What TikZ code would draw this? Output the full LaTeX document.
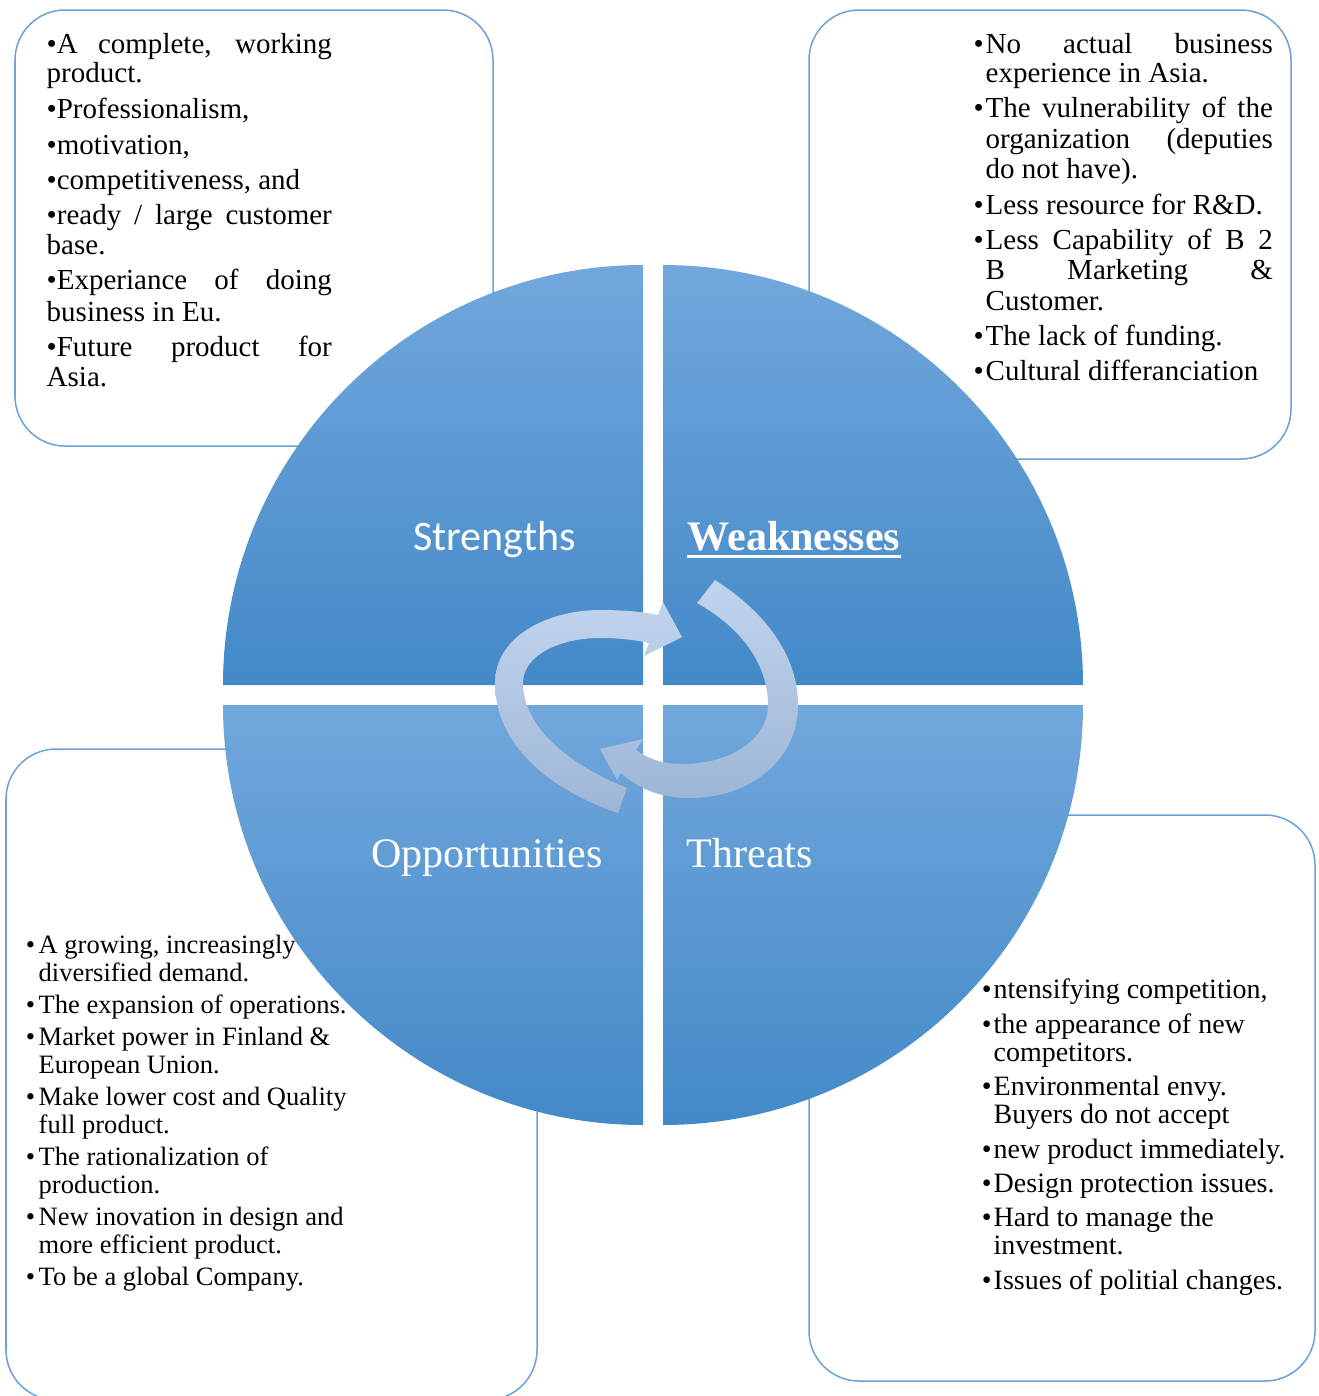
\documentclass[tikz,border=0pt]{standalone}
\usepackage{fontspec}
\setmainfont{Liberation Serif}
\newfontfamily\labelsans{Carlito}

\definecolor{quadtop}{RGB}{113,167,220}
\definecolor{quadbot}{RGB}{67,137,200}
\definecolor{boxline}{RGB}{108,160,218}
\definecolor{arrtop}{RGB}{193,212,237}
\definecolor{arrbot}{RGB}{158,182,214}

% hanging bullet placed left of the text start
\newcommand\hb[1]{\llap{•\hspace{#1}}}

\begin{document}
\begin{tikzpicture}[x=0.01cm,y=-0.01cm,
  infobox/.style={draw=boxline,line width=0.015cm,fill=white,rounded corners=0.5cm},
  quad/.style={top color=quadtop,bottom color=quadbot,draw=none},
  cyclearrow/.style={top color=arrtop,bottom color=arrbot,draw=none},
  bigserif/.style={anchor=base,inner sep=0,text=white,font=\fontsize{0.42cm}{0.5cm}\selectfont},
  tlline/.style={anchor=base west,inner sep=0,font=\fontsize{0.29cm}{0.3cm}\selectfont},
  trline/.style={anchor=base west,inner sep=0,font=\fontsize{0.29cm}{0.3cm}\selectfont},
  blline/.style={anchor=base west,inner sep=0,font=\fontsize{0.265cm}{0.28cm}\selectfont},
  brline/.style={anchor=base west,inner sep=0,font=\fontsize{0.28cm}{0.29cm}\selectfont}]
\useasboundingbox (0,0) rectangle (1319,1396);
\clip (0,0) rectangle (1319,1396);

% text panels behind the circle
\draw[infobox] (15,10) rectangle (493,446);
\draw[infobox] (809,10) rectangle (1291,459);
\draw[infobox] (6,749) rectangle (537,1400);
\draw[infobox] (809,815) rectangle (1315,1381);

% four quarter discs
\shade[quad] (643,685) -- (223,685) arc[start angle=180,end angle=270,radius=420] -- cycle;
\shade[quad] (663,685) -- (663,265) arc[start angle=270,end angle=360,radius=420] -- cycle;
\shade[quad] (643,705) -- (223,705) arc[start angle=180,end angle=90,radius=420] -- cycle;
\shade[quad] (663,705) -- (1083,705) arc[start angle=0,end angle=90,radius=420] -- cycle;

% circular arrows in the middle
\shade[cyclearrow] (618,813) .. controls (550,790) and (495,745) .. (495,683)
  .. controls (495,635) and (550,610) .. (600,610)
  .. controls (625,610) and (645,612) .. (658,615)
  -- (663,602) -- (682,637) -- (644,656) -- (649,643)
  .. controls (635,640) and (620,638) .. (600,638)
  .. controls (560,638) and (523,655) .. (523,683)
  .. controls (523,728) and (570,765) .. (627,788) -- cycle;
\shade[cyclearrow] (715,580) .. controls (765,612) and (798,655) .. (798,705)
  .. controls (798,760) and (750,798) .. (690,798)
  .. controls (662,798) and (640,790) .. (621,773)
  -- (617,780) -- (600,749) -- (643,739) -- (636,750)
  .. controls (650,760) and (665,764) .. (682,764)
  .. controls (730,764) and (768,740) .. (768,705)
  .. controls (768,665) and (742,628) .. (697,603) -- cycle;

% quadrant titles
\node[anchor=base,inner sep=0,text=white,font=\labelsans\fontsize{0.42cm}{0.5cm}\selectfont] (str) at (494.5,550) {Strengths};
\node[bigserif,font=\bfseries\fontsize{0.42cm}{0.5cm}\selectfont] (wk) at (794,550) {Weaknesses};
\draw[white,line width=0.03cm] ([yshift=-0.06cm]wk.base west) -- ([yshift=-0.06cm]wk.base east);
\node[bigserif] (opp) at (487,867) {Opportunities};
\node[bigserif] (thr) at (750,867) {Threats};

% strengths
\foreach \txt/\yy [count=\i] in {
  {\makebox[2.85cm][s]{•A complete, working}}/53,
  {product.}/82,
  {•Professionalism,}/118,
  {•motivation,}/154,
  {•competitiveness, and}/189,
  {\makebox[2.85cm][s]{•ready / large customer}}/224,
  {base.}/254,
  {\makebox[2.85cm][s]{•Experiance of doing}}/289,
  {business in Eu.}/321,
  {\makebox[2.85cm][s]{•Future product for}}/356,
  {Asia.}/386}
  {\node[tlline] (s\i) at (46,\yy) {\txt};}

% weaknesses
\foreach \txt/\yy [count=\i] in {
  {\hb{0.02cm}\makebox[2.87cm][s]{No actual business}}/53,
  {experience in Asia.}/82,
  {\hb{0.02cm}\makebox[2.87cm][s]{The vulnerability of the}}/117,
  {\makebox[2.87cm][s]{organization (deputies}}/148,
  {do not have).}/178,
  {\hb{0.02cm}Less resource for R\&D.}/214,
  {\hb{0.02cm}\makebox[2.87cm][s]{Less Capability of B 2}}/249,
  {\makebox[2.87cm][s]{B Marketing \&}}/279,
  {Customer.}/310,
  {\hb{0.02cm}The lack of funding.}/345,
  {\hb{0.02cm}Cultural differanciation}/380}
  {\node[trline] (w\i) at (985,\yy) {\txt};}

% opportunities
\foreach \txt/\yy [count=\i] in {
  {\hb{0.035cm}A growing, increasingly}/953,
  {diversified demand.}/981,
  {\hb{0.035cm}The expansion of operations.}/1013,
  {\hb{0.035cm}Market power in Finland \&}/1045,
  {European Union.}/1073,
  {\hb{0.035cm}Make lower cost and Quality}/1105,
  {full product.}/1133,
  {\hb{0.035cm}The rationalization of}/1165,
  {production.}/1193,
  {\hb{0.035cm}New inovation in design and}/1225,
  {more efficient product.}/1253,
  {\hb{0.035cm}To be a global Company.}/1285}
  {\node[blline] (o\i) at (38,\yy) {\txt};}

% threats
\foreach \txt/\yy [count=\i] in {
  {\hb{0.02cm}ntensifying competition,}/998,
  {\hb{0.02cm}the appearance of new}/1033,
  {competitors.}/1061,
  {\hb{0.02cm}Environmental envy.}/1095,
  {Buyers do not accept}/1123,
  {\hb{0.02cm}new product immediately.}/1158,
  {\hb{0.02cm}Design protection issues.}/1192,
  {\hb{0.02cm}Hard to manage the}/1226,
  {investment.}/1254,
  {\hb{0.02cm}Issues of politial changes.}/1289}
  {\node[brline] (t\i) at (993,\yy) {\txt};}
\end{tikzpicture}
\end{document}
